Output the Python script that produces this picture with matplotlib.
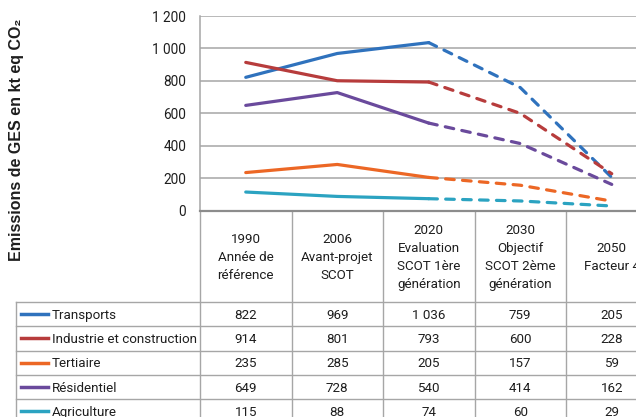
#!/usr/bin/python3
'''Emissions de GES par secteur (kt eq CO2), courbe + tableau de donnees
facon Excel. Trait plein jusqu'a 2020, pointilles pour les objectifs.
'''

import matplotlib
matplotlib.use('Agg')
import matplotlib.pyplot as plt

# --- data
headers = ['1990\nAnnée de\nréférence',
           '2006\nAvant-projet\nSCOT',
           '2020\nEvaluation\nSCOT 1ère\ngénération',
           '2030\nObjectif\nSCOT 2ème\ngénération',
           '2050\nFacteur 4']
sectors = ['Transports', 'Industrie et construction', 'Tertiaire',
           'Résidentiel', 'Agriculture']
transports = [822, 969, 1036, 759, 205]
industrie = [914, 801, 793, 600, 228]
tertiaire = [235, 285, 205, 157, 59]
residentiel = [649, 728, 540, 414, 162]
agriculture = [115, 88, 74, 60, 29]
series = [transports, industrie, tertiaire, residentiel, agriculture]
colors = ['#2f72bd', '#b73c3c', '#ec6725', '#6a4a9c', '#2ba3c1']
yticks = [0, 200, 400, 600, 800, 1000, 1200]

# --- layout (pixels)
W, H = 636, 417
X0 = 200          # left of plot / first data column
COLW = 91.5       # table column width
Y_TOP = 16        # y pixel of 1200
Y_AX = 210.7      # y pixel of 0
ROW_TOP = 302
ROWH = 24.3
TLEFT = 16
GRID = '#a6a6a6'
TFONT, TSIZE = ['Roboto', 'DejaVu Sans'], 9.6
INK = '#1e1e1e'


def fmt(v):
    return f'{v:,}'.replace(',', ' ')


fig = plt.figure(figsize=(W / 100, H / 100), dpi=100)

# overlay in pixel coords for the data table
tab = fig.add_axes([0, 0, 1, 1])
tab.set_xlim(0, W)
tab.set_ylim(H, 0)
tab.axis('off')

ax = fig.add_axes([X0 / W, 1 - Y_AX / H, 5 * COLW / W, (Y_AX - Y_TOP) / H])
ax.set_xlim(-0.5, 4.5)
ax.set_ylim(0, 1200)
ax.set_yticks(yticks)
ax.set_yticklabels([fmt(t) for t in yticks], fontsize=9.8, color=INK,
                   family=TFONT)
ax.set_xticks([])
ax.tick_params(axis='y', length=0, pad=10)
ax.grid(axis='y', color=GRID, lw=1.1)
ax.set_axisbelow(True)
for s in ['top', 'right']:
    ax.spines[s].set_visible(False)
ax.spines['left'].set_color(GRID)
ax.spines['left'].set_linewidth(1.1)
ax.spines['bottom'].set_color('#8c8c8c')
ax.spines['bottom'].set_linewidth(1.6)
ax.patch.set_alpha(0)

x = list(range(5))
for vals, c in zip(series, colors):
    ax.plot(x[:3], vals[:3], color=c, lw=2.3, solid_capstyle='round',
            solid_joinstyle='round', clip_on=False)
    ax.plot(x[2:], vals[2:], color=c, lw=2.3, dashes=(2.7, 2.6),
            dash_capstyle='round', dash_joinstyle='round', clip_on=False)

# y label
fig.text(17 / W, 1 - 140 / H, 'Emissions de GES en kt eq CO₂', rotation=90,
         ha='center', va='center', fontsize=11.5, fontweight='bold',
         family=['Liberation Sans', 'DejaVu Sans'], color=INK)

# table grid
for i in range(6):
    xx = X0 + i * COLW
    tab.plot([xx, xx], [Y_AX, H], color=GRID, lw=1.0)
tab.plot([TLEFT, TLEFT], [ROW_TOP, H], color=GRID, lw=1.0)
for r in range(len(sectors) + 1):
    yy = ROW_TOP + r * ROWH
    tab.plot([TLEFT, W], [yy, yy], color=GRID, lw=1.0)

# header row
for i, h in enumerate(headers):
    tab.text(X0 + (i + 0.5) * COLW, (Y_AX + ROW_TOP) / 2 + 1, h,
             ha='center', va='center', fontsize=TSIZE, family=TFONT,
             linespacing=1.5, color=INK)

# rows
for r, (name, vals, c) in enumerate(zip(sectors, series, colors)):
    yc = ROW_TOP + (r + 0.5) * ROWH
    tab.plot([21, 48], [yc, yc], color=c, lw=2.5)
    tab.text(52, yc + 1, name, ha='left', va='center', fontsize=TSIZE,
             family=TFONT, color=INK)
    for i, v in enumerate(vals):
        tab.text(X0 + (i + 0.5) * COLW, yc + 1, fmt(v), ha='center',
                 va='center', fontsize=TSIZE, family=TFONT, color=INK)

fig.savefig('out.png', dpi=100)
plt.close(fig)
